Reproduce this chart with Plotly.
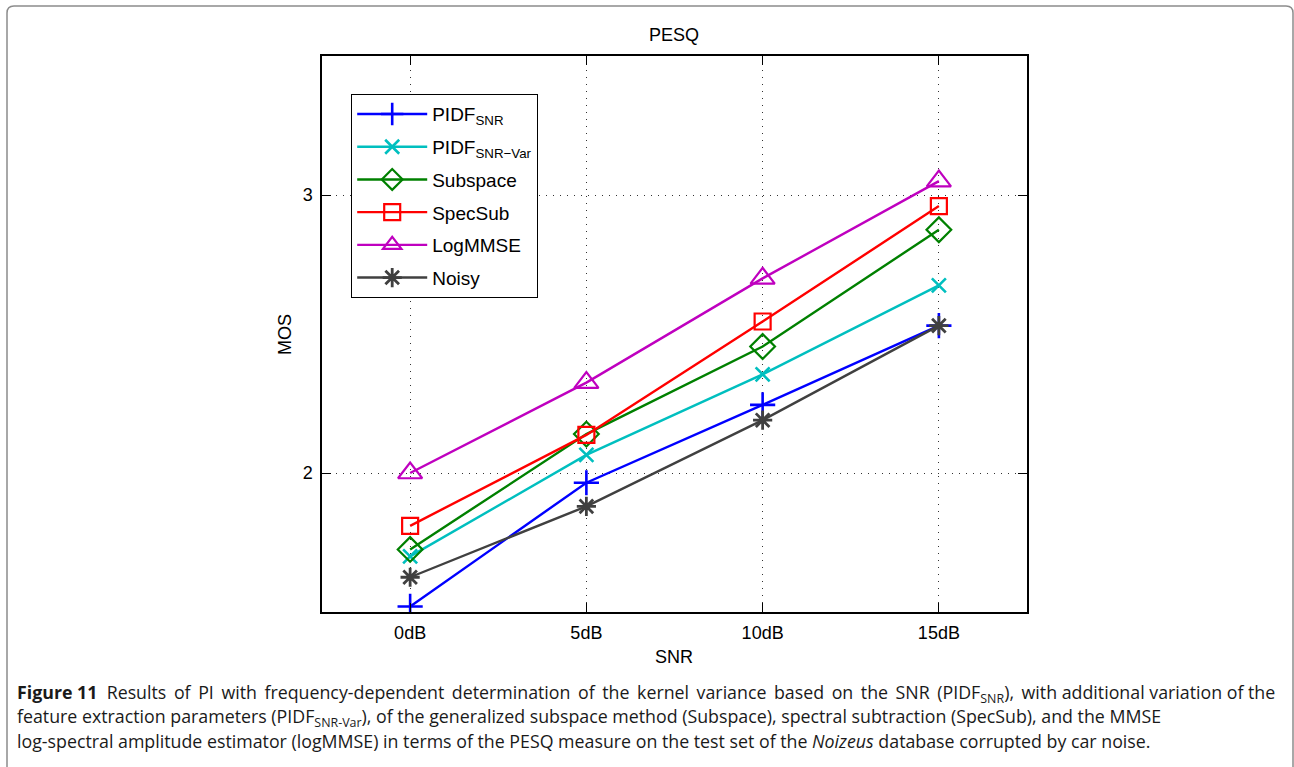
import plotly.graph_objects as go

# ---- data ----
snr_labels = ["0dB", "5dB", "10dB", "15dB"]
snr_values = [0, 5, 10, 15]

pidf_snr = [1.52, 1.965, 2.245, 2.53]
pidf_snr_var = [1.70, 2.065, 2.355, 2.675]
subspace = [1.725, 2.14, 2.455, 2.875]
specsub = [1.81, 2.137, 2.545, 2.96]
logmmse = [2.0, 2.325, 2.70, 3.05]
noisy = [1.625, 1.88, 2.19, 2.53]

series = [
    ("PIDF<sub>SNR</sub>", pidf_snr, "#0000FF", "cross-thin", 18, 2.6),
    ("PIDF<sub>SNR\u2212Var</sub>", pidf_snr_var, "#00BFBF", "x-thin", 14, 2.6),
    ("Subspace", subspace, "#008000", "diamond-open", 19, 2.2),
    ("SpecSub", specsub, "#FF0000", "square-open", 16, 2.2),
    ("LogMMSE", logmmse, "#BF00BF", "triangle-up-open", 21, 2.2),
    ("Noisy", noisy, "#404040", "asterisk", 16, 2.8),
]

fig = go.Figure()
for i, (name, ys, color, sym, size, mlw) in enumerate(series):
    fig.add_trace(go.Scatter(
        x=snr_values, y=ys, name=name, mode="lines+markers",
        legendgroup=f"g{i}",
        line=dict(color=color, width=2.4),
        marker=dict(symbol=sym, size=size, color=color,
                    line=dict(color=color, width=mlw)),
    ))

L, R, T, B = 322, 1294 - 1027, 56, 767 - 612
PW, PH = 1294 - L - R, 767 - T - B

def px(x):
    return (x - L) / PW

def py(y):
    return (767 - B - y) / PH

font_main = "Liberation Sans"

fig.update_layout(
    width=1294, height=767,
    margin=dict(l=L, r=R, t=T, b=B, autoexpand=False),
    paper_bgcolor="white", plot_bgcolor="white",
    font=dict(family=font_main, size=18, color="black"),
    showlegend=True,
    legend=dict(
        x=px(351), y=py(94), xanchor="left", yanchor="top",
        bordercolor="black", borderwidth=1.2, bgcolor="white",
        font=dict(size=19, family=font_main), itemwidth=70,
        tracegroupgap=5,
    ),
)

axis_common = dict(
    showline=True, linecolor="black", linewidth=1.5, mirror="ticks",
    ticks="inside", ticklen=9, tickwidth=1.2, tickcolor="black",
    showgrid=True, gridcolor="#333333", gridwidth=1, griddash="1px,6px",
    zeroline=False, ticklabelstandoff=4,
    tickfont=dict(size=18, family=font_main),
)
fig.update_xaxes(range=[-2.5, 17.5], tickmode="array", tickvals=snr_values,
                 ticktext=snr_labels, **axis_common)
fig.update_yaxes(range=[1.5, 3.5], tickmode="array", tickvals=[2, 3],
                 ticktext=["2", "3"], **axis_common)

annos = [
    dict(text="PESQ", x=px(674), y=py(35), xanchor="center", yanchor="middle",
         font=dict(size=18, family=font_main)),
    dict(text="SNR", x=px(674), y=py(657), xanchor="center", yanchor="middle",
         font=dict(size=18, family=font_main)),
    dict(text="MOS", x=px(285), y=py(335), xanchor="center", yanchor="middle",
         textangle=-90, font=dict(size=18, family=font_main)),
]

cap_font = dict(size=17.8, family="Open Sans", color="#1a1a1a")

# first caption line is justified in the reference: widen some word gaps
line1_body = ("Results of PI with frequency-dependent determination of the kernel "
              "variance based on the SNR (PIDF<sub>SNR</sub>), with additional variation of the")
words = line1_body.split(" ")
line1_body = "".join(w + (" \u2009" if k < 15 else " ") for k, w in enumerate(words[:-1])) + words[-1]

caption_lines = [
    "<b>Figure 11</b>  " + line1_body,
    "feature extraction parameters (PIDF<sub>SNR-Var</sub>), of the generalized subspace method (Subspace), spectral subtraction (SpecSub), and the MMSE",
    "log-spectral amplitude estimator (logMMSE) in terms of the PESQ measure on the test set of the <i>Noizeus</i> database corrupted by car noise.",
]
for i, line in enumerate(caption_lines):
    annos.append(dict(text=line, x=px(15), y=py(693 + 24 * i), xanchor="left",
                      yanchor="middle", align="left", font=cap_font))

for a in annos:
    a.update(xref="paper", yref="paper", showarrow=False)
fig.update_layout(annotations=annos)

# rounded outer frame
x0, x1, y0, y1 = px(7), px(1293), py(6), py(790)
rx, ry = 7 / PW, 7 / PH
path = (f"M{x0+rx},{y0} L{x1-rx},{y0} Q{x1},{y0} {x1},{y0-ry} "
        f"L{x1},{y1+ry} Q{x1},{y1} {x1-rx},{y1} L{x0+rx},{y1} "
        f"Q{x0},{y1} {x0},{y1+ry} L{x0},{y0-ry} Q{x0},{y0} {x0+rx},{y0} Z")
fig.add_shape(type="path", path=path, xref="paper", yref="paper",
              line=dict(color="#8c8c8c", width=1.5), layer="below")

fig.write_html("out.html")
